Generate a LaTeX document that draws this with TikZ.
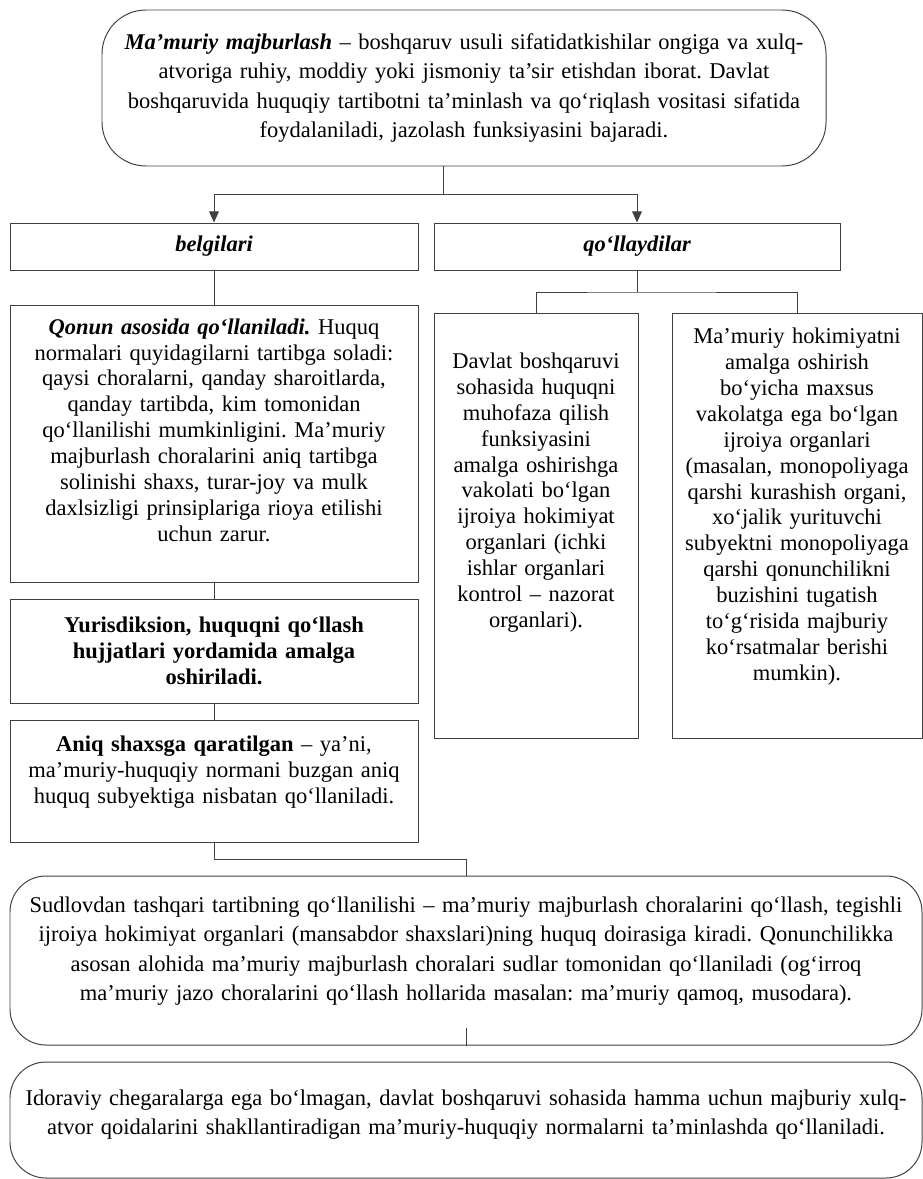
\documentclass[tikz,border=0pt]{standalone}
\usepackage{fontspec}
\setmainfont{Liberation Serif}
\usetikzlibrary{arrows.meta}
\newcommand{\botpad}[1]{\\[#1]\mbox{}}
\frenchspacing

\begin{document}
\begin{tikzpicture}[>={Triangle[width=7pt,length=8pt]},
  box/.style={draw=black!75,line width=0.7pt,align=center,inner sep=1pt,font=\fontsize{16}{18.4}\selectfont},
  rbox/.style={box,rounded corners=0.9cm,font=\fontsize{16}{21}\selectfont},
  hdr/.style={box,font=\fontsize{16}{18.4}\selectfont\bfseries\itshape},
  conn/.style={black!75,line width=0.7pt}]
\useasboundingbox (0,0) rectangle (23.075,-29.475);
% top definition
\node[rbox,rounded corners=1.1cm,minimum width=18.1cm,minimum height=3.9cm,text width=17.95cm] (mm) at (11.6,-2.2) {\textbf{\textit{Ma’muriy majburlash}} – boshqaruv usuli sifatidatkishilar ongiga va xulq-\\atvoriga ruhiy, moddiy yoki jismoniy ta’sir etishdan iborat. Davlat\\boshqaruvida huquqiy tartibotni ta’minlash va qo‘riqlash vositasi sifatida\\foydalaniladi, jazolash funksiyasini bajaradi.};
\node[hdr,minimum width=10.2cm,minimum height=1.175cm] (belg) at (5.35,-6.1625) {belgilari};
\node[hdr,minimum width=10.15cm,minimum height=1.175cm] (qol) at (15.925,-6.1625) {qo‘llaydilar};
% left column
\node[box,minimum width=10.2cm,minimum height=6.925cm,text width=10cm] (b1) at (5.35,-11.0875) {\textbf{\textit{Qonun asosida qo‘llaniladi.}} Huquq\\normalari quyidagilarni tartibga soladi:\\qaysi choralarni, qanday sharoitlarda,\\qanday tartibda, kim tomonidan\\qo‘llanilishi mumkinligini. Ma’muriy\\majburlash choralarini aniq tartibga\\solinishi shaxs, turar-joy va mulk\\daxlsizligi prinsiplariga rioya etilishi\\uchun zarur.\botpad{1pt}};
\node[box,minimum width=10.2cm,minimum height=2.6cm,text width=10cm,font=\fontsize{16}{18.4}\selectfont\bfseries] (b2) at (5.35,-16.275) {Yurisdiksion, huquqni qo‘llash\\hujjatlari yordamida amalga\\oshiriladi.};
\node[box,minimum width=10.2cm,minimum height=3.05cm,text width=10cm] (b3) at (5.35,-19.525) {\textbf{Aniq shaxsga qaratilgan} – ya’ni,\\ma’muriy-huquqiy normani buzgan aniq\\huquq subyektiga nisbatan qo‘llaniladi.\botpad{-2pt}};
% right column
\node[box,minimum width=5.1cm,minimum height=10.625cm,text width=4.9cm] (rl) at (13.4,-13.1375) {Davlat boshqaruvi\\sohasida huquqni\\muhofaza qilish\\funksiyasini\\amalga oshirishga\\vakolati bo‘lgan\\ijroiya hokimiyat\\organlari (ichki\\ishlar organlari\\kontrol – nazorat\\organlari).\botpad{32pt}};
\node[box,minimum width=6.25cm,minimum height=10.625cm,text width=6.05cm] (rr) at (19.925,-13.1375) {Ma’muriy hokimiyatni\\amalga oshirish\\bo‘yicha maxsus\\vakolatga ega bo‘lgan\\ijroiya organlari\\(masalan, monopoliyaga\\qarshi kurashish organi,\\xo‘jalik yurituvchi\\subyektni monopoliyaga\\qarshi qonunchilikni\\buzishini tugatish\\to‘g‘risida majburiy\\ko‘rsatmalar berishi\\mumkin).\botpad{12pt}};
% bottom
\node[rbox,minimum width=22.8cm,minimum height=4.225cm,text width=22.7cm] (sud) at (11.65,-24.0125) {Sudlovdan tashqari tartibning qo‘llanilishi – ma’muriy majburlash choralarini qo‘llash, tegishli\\ijroiya hokimiyat organlari (mansabdor shaxslari)ning huquq doirasiga kiradi. Qonunchilikka\\asosan alohida ma’muriy majburlash choralari sudlar tomonidan qo‘llaniladi (og‘irroq\\ma’muriy jazo choralarini qo‘llash hollarida masalan: ma’muriy qamoq, musodara).\botpad{-4pt}};
\node[rbox,minimum width=22.8cm,minimum height=2.9cm,text width=22.7cm] (ido) at (11.65,-28.0) {Idoraviy chegaralarga ega bo‘lmagan, davlat boshqaruvi sohasida hamma uchun majburiy xulq-\\atvor qoidalarini shakllantiradigan ma’muriy-huquqiy normalarni ta’minlashda qo‘llaniladi.\botpad{-10pt}};
% connectors
\coordinate (jn) at (11.075,-4.85);
\coordinate (rj) at (15.925,-7.3);
\coordinate (tk) at ([yshift=0.45cm]sud.south);
\draw[conn] (mm.south -| jn) -- (jn);
\draw[conn,->] (jn) -| (belg.north);
\draw[conn,->] (jn) -| (qol.north);
\draw[conn] (belg) -- (b1);
\draw[conn] (b1) -- (b2);
\draw[conn] (b2) -- (b3);
\draw[conn] (qol.south) -- (rj);
\draw[conn] (rl.north) |- (rj) -| (rr.north);
\draw[conn] (b3.south) -- ++(0,-0.415) -| (sud.north);
\draw[conn] (tk) -- (sud.south);
\end{tikzpicture}
\end{document}
